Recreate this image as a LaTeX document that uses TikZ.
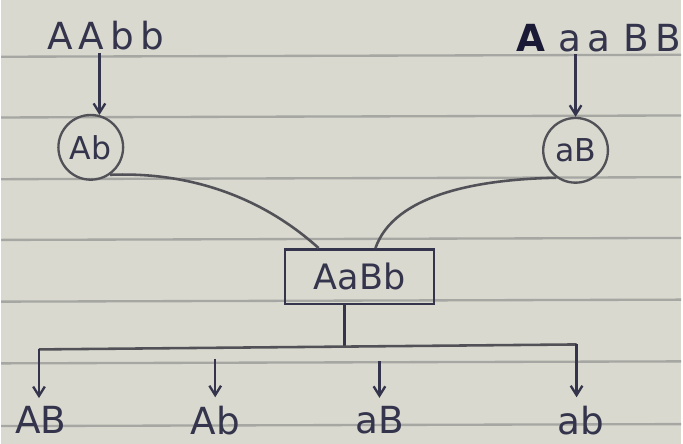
\documentclass[tikz,border=0pt]{standalone}
\usepackage{fontspec}
\setmainfont{DejaVu Sans}
\usetikzlibrary{arrows.meta, positioning, calc}
\definecolor{paper}{HTML}{D9D9D0}
\definecolor{rule}{HTML}{A6A6A3}
\definecolor{ink}{HTML}{34344C}
\definecolor{pencil}{HTML}{515157}
\definecolor{blot}{HTML}{1A1A36}
\tikzset{
  hand/.style={font=\fontsize{32}{38}\selectfont, text=ink, inner sep=2pt},
  gamete/.style={circle, draw=pencil, line width=2pt, hand, font=\fontsize{27}{32}\selectfont, minimum size=1.95cm, inner sep=0pt},
  hybrid/.style={rectangle, draw=ink, line width=2.2pt, hand, font=\fontsize{30}{36}\selectfont, minimum width=4.5cm, minimum height=1.65cm},
  arr/.style={-{Straight Barb[length=8pt,width=10pt]}, line width=2pt, draw=ink},
  link/.style={line width=2.2pt, draw=pencil},
}
\begin{document}
\begin{tikzpicture}[x=0.03cm, y=-0.03cm]
  \fill[paper] (0,0) rectangle (683,446);
  \foreach \y in {57,118,180,241,303,365,428}
    \draw[rule, line width=2pt] (0,\y) -- (683,\y-2);
  % parents
  \node[hand] (p1) at (105,36) {A\,A\,b\,b};
  \node[hand] (p2) at (600,38) {\textcolor{blot}{\bfseries A}\hspace{0.35em}a\,a\hspace{0.35em}B\,B};
  % gametes
  \node[gamete] (g1) at (90,148) {Ab};
  \node[gamete] (g2) at (577,151) {aB};
  \draw[arr] (p1.south -| g1.75) -- (g1.75);
  \draw[arr] (p2.south -| g2.north) -- (g2.north);
  % F1
  \node[hybrid] (f1) at (360,278) {AaBb};
  \draw[link] (g1.-55) .. controls (200,172) and (270,205) .. (f1.145);
  \draw[link] (g2.-125) .. controls (480,180) and (395,195) .. (f1.61);
  % F2 gametes
  \coordinate (split) at (345,349);
  \coordinate (bl) at (38,351);
  \coordinate (br) at (578,346);
  \draw[link, draw=ink] (f1.south -| split) -- (split);
  \draw[link] (bl) -- (br);
  \foreach \n/\x/\t in {o1/40/AB, o2/215/Ab, o3/380/aB, o4/582/ab}
    \node[hand] (\n) at (\x,422) {\t};
  \draw[arr, shorten >=5pt] (bl) -- (bl |- o1.north);
  \draw[arr, shorten <=8pt, shorten >=5pt] (o2 |- bl) -- (o2.north);
  \draw[arr, shorten <=10pt, shorten >=5pt] (o3 |- bl) -- (o3.north);
  \draw[arr, shorten >=5pt] (br) -- (br |- o4.north);
\end{tikzpicture}
\end{document}
